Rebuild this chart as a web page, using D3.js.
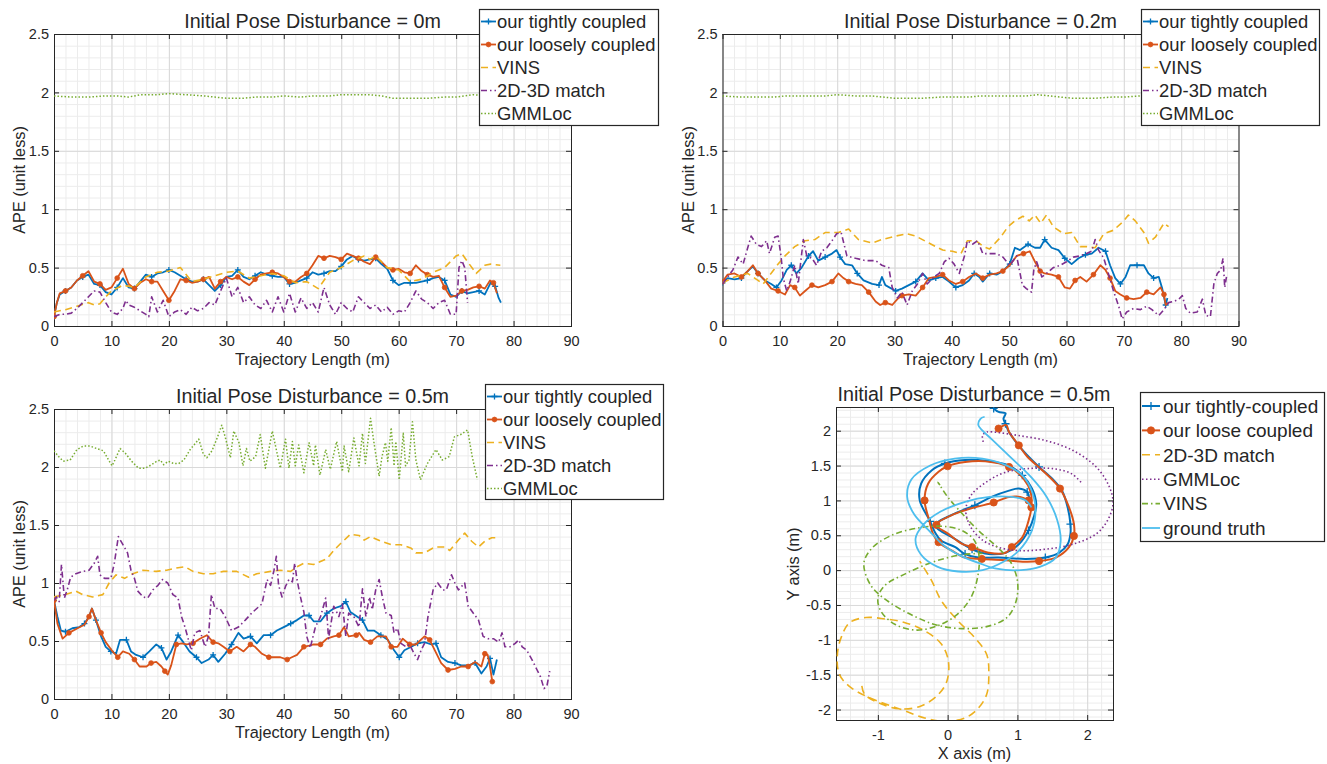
<!DOCTYPE html>
<html>
<head>
<meta charset="utf-8">
<script src="https://cdn.jsdelivr.net/npm/d3@7/dist/d3.min.js"></script>
<style>
  body { margin: 0; background: #fff; }
  svg text { font-family: "Liberation Sans", Arial, Helvetica, sans-serif; fill: #262626; }
</style>
</head>
<body>
<script>
//---------------- data ----------------
var titles = ['Initial Pose Disturbance = 0m', 'Initial Pose Disturbance = 0.2m',
              'Initial Pose Disturbance = 0.5m', 'Initial Pose Disturbance = 0.5m'];
var apeLabels = ['our tightly coupled', 'our loosely coupled', 'VINS', '2D-3D match', 'GMMLoc'];
var trajLabels = ['our tightly-coupled', 'our loose coupled', '2D-3D match', 'GMMLoc', 'VINS', 'ground truth'];
var apeXTicks = [0, 10, 20, 30, 40, 50, 60, 70, 80, 90];
var apeYTicks = [0, 0.5, 1, 1.5, 2, 2.5];
var trajXTicks = [-1, 0, 1, 2];
var trajYTicks = [-2, -1.5, -1, -0.5, 0, 0.5, 1, 1.5, 2];

// disturbance 0m : [trajectory length, APE]
var tight0 = [[0,0.08],[0.5,0.2],[1,0.27],[2,0.3],[3,0.33],[4,0.39],[5,0.42],[6,0.44],[7,0.36],[8,0.35],[9,0.29],[10,0.27],[11,0.33],[12,0.41],[13,0.33],[14,0.32],[15,0.38],[16,0.44],[17,0.42],[18,0.45],[19,0.46],[20,0.48],[21,0.46],[22,0.43],[23,0.4],[24,0.38],[25,0.38],[26,0.4],[27,0.35],[28,0.3],[29,0.35],[30,0.42],[31,0.43],[32,0.48],[33,0.42],[34,0.4],[35,0.43],[36,0.46],[37,0.44],[38,0.43],[39,0.42],[40,0.42],[41,0.36],[42,0.37],[43,0.39],[44,0.41],[45,0.46],[46,0.44],[47,0.45],[48,0.47],[49,0.47],[50,0.51],[51,0.57],[52,0.6],[53,0.57],[54,0.56],[55,0.57],[56,0.58],[57,0.53],[58,0.49],[59,0.39],[60,0.35],[61,0.37],[62,0.37],[63,0.37],[64,0.38],[65,0.39],[66,0.41],[67,0.42],[68,0.39],[69,0.27],[70,0.25],[71,0.3],[72,0.28],[73,0.29],[74,0.3],[75,0.27],[76,0.37],[76.8,0.34],[77.4,0.24],[77.8,0.2]];
var loose0 = [[0,0.08],[0.5,0.2],[1,0.28],[2,0.3],[3,0.33],[4,0.39],[5,0.43],[6,0.47],[7,0.38],[8,0.36],[9,0.31],[10,0.33],[11,0.41],[12,0.49],[13,0.36],[14,0.32],[15,0.37],[16,0.4],[17,0.38],[18,0.38],[19,0.3],[20,0.22],[21,0.3],[22,0.4],[23,0.39],[24,0.37],[25,0.38],[26,0.4],[27,0.42],[28,0.32],[29,0.38],[30,0.42],[31,0.4],[32,0.42],[33,0.38],[34,0.35],[35,0.4],[36,0.44],[37,0.45],[38,0.46],[39,0.45],[40,0.42],[41,0.38],[42,0.38],[43,0.42],[44,0.45],[45,0.52],[46,0.6],[47,0.58],[48,0.6],[49,0.59],[50,0.57],[51,0.62],[52,0.6],[53,0.58],[54,0.55],[55,0.53],[56,0.59],[57,0.55],[58,0.5],[59,0.48],[60,0.49],[61,0.46],[62,0.45],[63,0.52],[64,0.47],[65,0.44],[66,0.42],[67,0.43],[68,0.33],[69,0.25],[70,0.26],[71,0.3],[72,0.31],[73,0.33],[74,0.34],[75,0.32],[75.9,0.39],[76.5,0.37],[77.1,0.28]];
var vins0 = [[0,0.12],[2,0.14],[4,0.17],[6,0.2],[7,0.18],[8,0.19],[9,0.25],[10,0.3],[12,0.35],[14,0.33],[16,0.42],[18,0.46],[20,0.47],[22,0.5],[23,0.44],[24,0.38],[26,0.4],[28,0.43],[30,0.46],[32,0.47],[34,0.41],[36,0.43],[38,0.45],[40,0.43],[42,0.37],[44,0.38],[46,0.32],[48,0.46],[50,0.5],[52,0.56],[54,0.6],[55,0.57],[56,0.6],[58,0.5],[60,0.48],[62,0.38],[64,0.4],[66,0.46],[68,0.5],[70,0.6],[71,0.62],[72,0.55],[73.5,0.45],[75,0.52],[76,0.53],[77.7,0.52]];
var match0 = [[0,0.08],[1,0.1],[2,0.1],[3,0.11],[4,0.15],[5,0.2],[6,0.25],[7,0.3],[8,0.29],[9,0.2],[10,0.12],[11,0.1],[12,0.15],[12.5,0.22],[13,0.18],[14,0.16],[15,0.13],[16,0.1],[16.5,0.08],[17,0.25],[18,0.12],[19,0.22],[20,0.08],[21,0.12],[22,0.14],[23,0.1],[24,0.16],[25,0.13],[26,0.15],[27,0.2],[28,0.18],[29,0.3],[30,0.41],[31,0.25],[32,0.33],[33,0.2],[34,0.25],[35,0.18],[36,0.15],[37,0.22],[38,0.12],[39,0.25],[40,0.12],[41,0.28],[42,0.12],[43,0.24],[44,0.15],[45,0.2],[46,0.12],[47,0.33],[48,0.18],[49,0.1],[50,0.2],[51,0.15],[52,0.12],[53,0.25],[54,0.2],[55,0.15],[56,0.18],[57,0.12],[58,0.16],[59,0.1],[60,0.13],[61,0.12],[62,0.2],[63,0.3],[64,0.23],[65,0.2],[66,0.15],[67,0.2],[68,0.22],[69,0.1],[70,0.1],[70.5,0.5],[71,0.56],[71.5,0.5],[72,0.2]];
var gmm0 = [[0,1.97],[3,1.96],[6,1.96],[9,1.97],[11,1.97],[13,1.96],[15,1.98],[18,1.98],[20,1.99],[23,1.98],[26,1.97],[28,1.96],[30,1.95],[33,1.95],[35,1.96],[38,1.96],[40,1.97],[43,1.96],[45,1.97],[48,1.97],[50,1.98],[53,1.98],[55,1.98],[57,1.97],[59,1.95],[62,1.95],[65,1.95],[68,1.96],[70,1.96],[73,1.98],[76,1.97],[78,1.97]];

// disturbance 0.2m
var tight2 = [[0,0.37],[0.9,0.41],[2.1,0.4],[3.3,0.41],[4.4,0.47],[5.3,0.51],[6.2,0.45],[7.4,0.39],[8.5,0.36],[9.4,0.33],[10.3,0.39],[11.2,0.48],[12,0.52],[12.9,0.45],[13.8,0.5],[15,0.6],[15.8,0.64],[16.7,0.56],[17.9,0.59],[19.1,0.62],[19.9,0.65],[20.5,0.59],[21.4,0.53],[22.6,0.52],[23.5,0.45],[24.6,0.39],[26.1,0.36],[27.3,0.35],[27.8,0.42],[28.4,0.35],[30.2,0.3],[31.3,0.32],[32.5,0.35],[33.7,0.38],[34.9,0.45],[36,0.39],[37.2,0.41],[38.4,0.42],[39.5,0.38],[40.7,0.33],[41.9,0.35],[43,0.39],[43.9,0.45],[44.8,0.42],[45.4,0.38],[46.6,0.45],[47.8,0.44],[48.9,0.47],[50.1,0.53],[51,0.67],[51.9,0.65],[53.3,0.7],[54.5,0.67],[55.4,0.67],[56.2,0.74],[57.4,0.67],[58.6,0.65],[59.7,0.58],[60.9,0.53],[62.1,0.58],[63.3,0.61],[64.4,0.62],[65.6,0.67],[66.8,0.64],[67.6,0.52],[68.5,0.41],[69.4,0.36],[70.3,0.42],[71.1,0.52],[72.3,0.52],[73.5,0.52],[74.3,0.45],[75.2,0.41],[76.1,0.42],[76.7,0.32],[77.3,0.18],[77.6,0.24]];
var loose2 = [[0,0.38],[0.9,0.44],[2.1,0.45],[3.3,0.42],[4.4,0.47],[5.3,0.52],[6.2,0.45],[7.4,0.39],[8.5,0.32],[9.7,0.3],[10.9,0.27],[11.8,0.35],[12.6,0.33],[13.5,0.26],[14.4,0.3],[15.6,0.35],[16.7,0.33],[17.9,0.35],[19.1,0.38],[20.2,0.45],[21.1,0.41],[22,0.38],[23.2,0.36],[24.3,0.35],[25.5,0.29],[26.7,0.21],[27.5,0.18],[28.4,0.2],[29.6,0.18],[30.5,0.23],[31.3,0.26],[32.5,0.27],[33.7,0.26],[34.9,0.33],[36,0.41],[37.2,0.42],[38.4,0.44],[39.5,0.39],[40.7,0.36],[41.9,0.38],[43,0.42],[44.2,0.45],[45.4,0.41],[46.6,0.44],[47.8,0.45],[48.9,0.47],[50.1,0.52],[51.3,0.6],[52.5,0.62],[53.6,0.64],[54.5,0.55],[55.4,0.47],[56.2,0.45],[57.4,0.44],[58.6,0.42],[59.7,0.33],[60.6,0.32],[61.5,0.39],[62.4,0.42],[63.5,0.38],[64.7,0.44],[65.9,0.52],[66.8,0.48],[67.6,0.41],[68.5,0.3],[69.4,0.27],[70.5,0.24],[71.7,0.23],[72.9,0.24],[74,0.29],[75.2,0.27],[76.4,0.33],[77,0.27],[77.3,0.18],[77.8,0.2]];
var vins2 = [[0,0.37],[2.1,0.42],[4.4,0.45],[6.2,0.39],[7.1,0.36],[8,0.42],[9.7,0.53],[10.9,0.6],[12.6,0.68],[14.4,0.73],[16.1,0.74],[17.9,0.8],[20.2,0.8],[22,0.83],[23.7,0.74],[26.1,0.71],[27.8,0.74],[30.2,0.77],[32.2,0.79],[33.7,0.77],[36,0.71],[38.4,0.65],[40.1,0.64],[41.6,0.62],[42.7,0.73],[44.2,0.73],[45.5,0.68],[46.6,0.66],[48.5,0.76],[49.8,0.85],[51,0.9],[52.4,0.94],[53.5,0.9],[54.5,0.95],[55.5,0.88],[56.5,0.95],[57.7,0.85],[59.5,0.79],[60.9,0.8],[62.4,0.68],[63.5,0.68],[65,0.67],[66.5,0.79],[68.2,0.82],[70,0.9],[70.8,0.95],[72,0.9],[73.5,0.8],[74.3,0.71],[75.5,0.76],[77,0.88],[77.8,0.85]];
var match2 = [[0,0.36],[0.9,0.42],[1.8,0.48],[2.7,0.59],[3.6,0.53],[4.4,0.67],[5,0.77],[5.9,0.7],[6.8,0.68],[7.7,0.73],[8.2,0.62],[9.1,0.76],[9.7,0.77],[10.2,0.6],[10.6,0.41],[11.2,0.3],[11.8,0.38],[12.6,0.52],[13.2,0.36],[14.1,0.74],[14.7,0.6],[15.6,0.58],[16.4,0.52],[17.3,0.64],[18.2,0.67],[19.1,0.73],[19.9,0.79],[20.7,0.8],[21.7,0.6],[23.2,0.58],[24.9,0.56],[26.7,0.56],[27.8,0.52],[29,0.5],[29.6,0.33],[30.5,0.24],[31.3,0.29],[32.2,0.18],[33.1,0.3],[34,0.36],[34.9,0.45],[35.7,0.36],[36.9,0.42],[37.8,0.45],[38.7,0.55],[39.5,0.58],[40.4,0.53],[41.3,0.45],[42.2,0.6],[42.7,0.73],[43.6,0.7],[44.5,0.73],[45.4,0.62],[46.6,0.62],[47.8,0.62],[48.9,0.59],[50.1,0.52],[51.3,0.6],[51.9,0.45],[52.3,0.35],[53,0.32],[53.9,0.29],[54.3,0.48],[54.8,0.55],[55.7,0.42],[56.5,0.45],[57.7,0.5],[58.9,0.52],[60,0.55],[61.2,0.59],[62.4,0.6],[63.5,0.62],[64.4,0.64],[65,0.74],[65.6,0.65],[66.5,0.58],[67.3,0.45],[68.2,0.3],[69.1,0.17],[69.7,0.06],[70.5,0.12],[71.7,0.15],[72.9,0.14],[74,0.17],[74.9,0.14],[76.1,0.09],[77,0.14],[77.8,0.2],[78.7,0.21],[79.6,0.23],[80.2,0.26],[80.8,0.15],[81.6,0.11],[82.8,0.12],[83.7,0.23],[84.3,0.09],[85.1,0.08],[85.7,0.36],[86.3,0.45],[86.9,0.48],[87.3,0.58],[87.6,0.33],[87.9,0.42]];
var gmm2 = [[0,1.97],[3,1.96],[6,1.96],[9,1.96],[11,1.97],[13,1.97],[15,1.97],[18,1.97],[20,1.98],[23,1.97],[26,1.97],[28,1.96],[30,1.95],[33,1.95],[35,1.95],[38,1.96],[40,1.96],[43,1.96],[45,1.97],[48,1.97],[50,1.97],[53,1.97],[55,1.98],[57,1.97],[59,1.96],[61,1.95],[63,1.95],[65,1.95],[68,1.96],[70,1.96],[73,1.97],[76,1.97],[78,1.97]];

// disturbance 0.5m
var tight5 = [[0,0.85],[0.6,0.71],[1.2,0.59],[2,0.58],[3.2,0.61],[4.4,0.62],[5.3,0.65],[6.1,0.71],[6.6,0.78],[7.3,0.68],[8.2,0.54],[9,0.45],[9.9,0.41],[10.8,0.39],[11.5,0.51],[12.6,0.51],[13.4,0.41],[14.3,0.38],[15.5,0.36],[16.6,0.41],[17.8,0.47],[18.7,0.44],[19.6,0.34],[20.4,0.41],[21.6,0.55],[22.5,0.49],[23.6,0.41],[24.8,0.36],[25.7,0.31],[26.9,0.34],[27.7,0.38],[28.6,0.32],[29.8,0.39],[30.9,0.47],[32.1,0.57],[33,0.52],[34.2,0.54],[35.3,0.48],[36.5,0.55],[37.7,0.55],[38.8,0.59],[40,0.62],[41.2,0.65],[42.3,0.68],[43.5,0.72],[44.4,0.72],[45.2,0.67],[46.4,0.67],[47.5,0.74],[48.7,0.78],[49.9,0.8],[50.8,0.84],[51.6,0.75],[52.8,0.71],[53.7,0.68],[54.6,0.59],[55.7,0.59],[56.9,0.55],[58.1,0.51],[59.2,0.42],[60.1,0.36],[61,0.42],[62.2,0.45],[63.3,0.48],[64.5,0.49],[65.7,0.47],[66.5,0.48],[67.4,0.36],[68.6,0.32],[69.8,0.31],[70.9,0.29],[72.1,0.29],[73.3,0.31],[74.4,0.22],[75.3,0.28],[75.9,0.35],[76.5,0.21],[77.1,0.34]];
var loose5 = [[0,0.85],[0.6,0.65],[1.5,0.52],[2.6,0.57],[4.1,0.61],[5.3,0.64],[6.1,0.71],[6.6,0.78],[7.3,0.68],[8.2,0.57],[9,0.49],[10.2,0.41],[11.1,0.36],[12,0.41],[13.1,0.39],[14,0.34],[14.9,0.28],[16.1,0.28],[16.9,0.31],[17.8,0.32],[18.7,0.28],[19.3,0.24],[19.8,0.21],[20.4,0.29],[21.3,0.47],[22.2,0.48],[23.1,0.47],[24.2,0.48],[25.4,0.52],[26.6,0.55],[27.7,0.49],[28.6,0.48],[29.5,0.45],[30.6,0.41],[31.8,0.45],[33,0.41],[34.2,0.47],[35,0.45],[36.2,0.39],[37.4,0.36],[38.2,0.36],[39.4,0.36],[40.6,0.34],[41.4,0.36],[42.3,0.38],[43.5,0.45],[44.4,0.46],[45.2,0.47],[46.4,0.47],[47.5,0.52],[48.7,0.54],[49.6,0.55],[50.5,0.62],[51.3,0.54],[52.6,0.55],[53.1,0.57],[54,0.51],[55.1,0.49],[56.3,0.54],[57.8,0.54],[58.7,0.45],[59.8,0.45],[60.7,0.52],[61.9,0.47],[63,0.47],[64.5,0.54],[65.4,0.51],[66.3,0.42],[67.4,0.31],[68.6,0.25],[69.8,0.26],[70.9,0.28],[72.1,0.28],[73.3,0.32],[74.4,0.28],[75,0.39],[75.5,0.38],[75.9,0.28],[76.3,0.15]];
var vins5 = [[0,0.88],[2,0.9],[3.8,0.93],[5,0.9],[6.7,0.88],[8.5,0.9],[9.6,1.0],[10.8,1.07],[12.3,1.04],[13.7,1.08],[15.5,1.11],[17.8,1.1],[19.6,1.11],[21.3,1.13],[22.8,1.14],[24.2,1.1],[26,1.08],[27.7,1.08],[29.5,1.1],[31.8,1.1],[33.9,1.05],[35.3,1.08],[37.7,1.1],[39.4,1.11],[41.2,1.1],[42.3,1.14],[43.5,1.17],[45.2,1.16],[47.5,1.21],[48.7,1.28],[49.9,1.34],[51.6,1.42],[53.1,1.41],[54,1.37],[55.1,1.4],[56.9,1.36],[58.7,1.33],[60.4,1.33],[62.2,1.3],[63,1.26],[64.5,1.26],[66.3,1.31],[68,1.31],[68.9,1.28],[70.4,1.37],[71.5,1.43],[72.7,1.36],[73.9,1.31],[75,1.36],[76.2,1.39],[77.4,1.39]];
var match5 = [[0,0.85],[0.4,0.88],[0.9,0.84],[1.3,1.16],[1.8,0.87],[2.3,0.94],[2.9,1.05],[3.8,1.08],[5,1.1],[6.1,1.11],[7,1.17],[7.6,1.23],[8,1.07],[8.8,1.04],[9.9,1.04],[10.5,1.17],[11.2,1.4],[12,1.33],[12.8,1.26],[13.4,1.11],[14,1.04],[14.6,0.93],[15.5,0.88],[16.3,0.87],[17.2,0.94],[18.1,0.98],[18.9,1.03],[19.8,1.0],[20.7,0.9],[21.6,0.87],[22.2,0.71],[22.8,0.62],[23.4,0.51],[23.9,0.42],[24.5,0.57],[25.4,0.59],[26.3,0.45],[26.9,0.54],[27.4,0.9],[28,0.78],[28.9,0.78],[29.8,0.71],[30.9,0.59],[32.1,0.62],[33.3,0.68],[34.4,0.74],[35.3,0.78],[36.2,0.82],[37.1,1.03],[37.7,0.98],[38.3,1.11],[38.7,1.23],[39.1,0.98],[39.7,0.88],[40.3,0.97],[40.9,1.03],[41.5,1.01],[41.9,1.17],[42.3,1.03],[42.9,0.88],[43.5,0.75],[44,0.54],[44.6,0.44],[45.5,0.62],[46.4,0.71],[47.3,0.87],[47.8,0.52],[48.7,0.8],[49.6,0.71],[50.2,0.82],[50.8,0.54],[51.3,0.74],[52.2,0.71],[53.1,0.62],[53.7,0.95],[54.3,0.71],[54.9,0.88],[55.4,0.77],[56,0.94],[56.6,1.03],[57.2,0.87],[57.8,0.74],[58.7,0.72],[59.2,0.57],[59.8,0.61],[60.4,0.48],[61.3,0.45],[61.9,0.47],[62.7,0.39],[63.3,0.34],[63.9,0.42],[64.5,0.48],[65.1,0.71],[66,0.94],[66.8,1.0],[67.7,0.94],[68.3,0.94],[69.2,1.07],[69.8,1.0],[70.4,0.94],[71.5,1.0],[72.1,0.8],[73,0.74],[73.9,0.68],[74.7,0.54],[75.6,0.52],[76.5,0.52],[77.4,0.49],[78,0.57],[78.5,0.45],[79.4,0.45],[80.3,0.48],[80.9,0.51],[81.5,0.45],[82.3,0.42],[83.2,0.34],[84.1,0.25],[84.7,0.19],[85.3,0.09],[85.8,0.11],[86.3,0.24]];
var gmm5 = [[0,2.14],[0.8,2.09],[1.6,2.05],[2.8,2.06],[4,2.15],[5.1,2.18],[6.3,2.18],[7.4,2.16],[8.6,2.14],[9.5,2.06],[10.1,2.01],[10.6,2.06],[11.5,2.16],[12.4,2.12],[13.5,2.05],[14.7,1.99],[15.9,1.99],[17,2.02],[17.9,2.05],[18.5,2.06],[19.1,2.02],[19.9,2.05],[20.8,2.03],[21.7,2.03],[22.6,2.06],[23.7,2.15],[25.2,2.24],[26,2.11],[26.6,2.08],[27.5,2.14],[28.4,2.25],[29.2,2.36],[29.8,2.26],[30.7,2.08],[31.3,2.31],[32.2,2.21],[32.9,2.01],[33.5,2.16],[34.1,2.05],[35.1,2.09],[35.9,2.28],[36.8,1.99],[38,2.31],[39.4,1.99],[40.3,2.24],[40.9,1.99],[41.5,2.22],[42,2.01],[42.6,2.19],[43.5,1.95],[44.4,2.21],[45.2,2.01],[45.5,2.19],[46.3,1.93],[47.3,2.15],[48.1,1.98],[49.2,2.22],[50.2,1.96],[50.5,2.18],[51.3,1.96],[52.2,2.25],[53.1,2.01],[53.7,2.29],[54.2,2.03],[55.1,2.42],[55.7,2.21],[56.6,1.92],[57.1,2.09],[57.7,2.21],[58.1,2.05],[58.7,2.34],[59.2,2.01],[59.5,2.22],[60.1,1.89],[60.8,2.29],[61.2,2.01],[61.8,2.06],[62.4,2.39],[63,2.06],[63.8,1.89],[65,2.03],[66.5,2.15],[67.6,2.06],[68.8,2.09],[69.7,2.26],[70.8,2.28],[72,2.32],[72.8,2.09],[73.7,1.89]];

// trajectories, disturbance 0.5m : [x (m), y (m)]
var trajTight = [[0.66,2.32],[0.73,2.27],[0.83,2.25],[0.8,2.17],[0.83,2.1],[0.88,1.98],[1.0,1.81],[1.12,1.67],[1.31,1.48],[1.5,1.31],[1.64,1.14],[1.72,0.9],[1.76,0.66],[1.76,0.52],[1.72,0.37],[1.6,0.25],[1.4,0.18],[1.12,0.16],[0.73,0.18],[0.44,0.18],[0.25,0.23],[0.11,0.33],[-0.09,0.42],[-0.18,0.54],[-0.25,0.7],[-0.4,1.0],[-0.38,1.24],[-0.23,1.43],[-0.04,1.53],[0.25,1.58],[0.54,1.57],[0.88,1.5],[1.07,1.36],[1.21,1.17],[1.27,0.95],[1.24,0.78],[1.16,0.57],[1.02,0.37],[0.83,0.25],[0.59,0.23],[0.35,0.3],[0.1,0.45],[-0.18,0.64],[0.1,0.81],[0.39,0.93],[0.63,1.05],[0.88,1.14],[1.02,1.17],[1.14,1.12],[1.17,1.03]];
var trajLoose = [[0.73,2.03],[0.84,2.08],[0.88,1.98],[1.02,1.79],[1.14,1.63],[1.36,1.43],[1.61,1.17],[1.74,0.9],[1.81,0.66],[1.81,0.49],[1.74,0.33],[1.55,0.18],[1.31,0.13],[1.14,0.12],[0.83,0.14],[0.49,0.16],[0.25,0.18],[0.06,0.28],[-0.13,0.4],[-0.21,0.52],[-0.26,0.7],[-0.33,1.0],[-0.28,1.24],[-0.13,1.41],[0.0,1.49],[0.25,1.55],[0.54,1.56],[0.88,1.48],[1.09,1.31],[1.19,1.12],[1.2,0.9],[1.16,0.71],[1.07,0.47],[0.92,0.33],[0.83,0.25],[0.59,0.25],[0.35,0.33],[0.2,0.38],[0.01,0.52],[-0.16,0.65],[0.11,0.81],[0.39,0.9],[0.66,0.97],[0.88,1.05],[1.04,1.05],[1.16,1.0]];
var trajMatch = [[-1.23,-1.66],[-1.19,-1.78],[-1.0,-1.9],[-0.69,-1.99],[-0.38,-1.95],[-0.13,-1.78],[-0.01,-1.59],[0.01,-1.3],[-0.09,-1.06],[-0.33,-0.87],[-0.62,-0.75],[-0.9,-0.7],[-1.17,-0.68],[-1.4,-0.75],[-1.52,-0.95],[-1.58,-1.21],[-1.55,-1.5],[-1.38,-1.69],[-1.05,-1.86],[-0.66,-2.0],[-0.33,-2.12],[-0.04,-2.17],[0.25,-2.12],[0.44,-1.98],[0.56,-1.78],[0.59,-1.5],[0.56,-1.21],[0.39,-0.97],[0.15,-0.73],[-0.09,-0.44],[-0.23,-0.15],[-0.4,0.13]];
var trajGmm = [[0.51,1.84],[0.5,1.93],[0.56,1.98],[0.75,1.97],[1.02,1.93],[1.4,1.86],[1.79,1.72],[2.13,1.48],[2.32,1.19],[2.37,0.95],[2.29,0.71],[2.13,0.52],[1.79,0.37],[1.4,0.3],[1.02,0.28],[0.72,0.33],[0.5,0.43],[0.33,0.62],[0.26,0.86],[0.34,1.08],[0.55,1.26],[0.82,1.4],[1.2,1.46],[1.55,1.45],[1.78,1.38],[1.93,1.24]];
var trajVins = [[-0.11,1.22],[-0.14,1.26],[-0.1,1.2],[0.0,1.05],[0.2,0.82],[0.45,0.56],[0.7,0.34],[0.9,0.12],[1.0,-0.15],[0.98,-0.45],[0.85,-0.68],[0.6,-0.8],[0.25,-0.84],[-0.15,-0.79],[-0.5,-0.65],[-0.85,-0.45],[-1.1,-0.22],[-1.2,0.1],[-1.08,0.32],[-0.8,0.5],[-0.45,0.6],[-0.1,0.63],[0.2,0.57],[0.38,0.43],[0.45,0.2],[0.43,-0.1],[0.33,-0.4],[0.12,-0.65],[-0.15,-0.8],[-0.45,-0.86],[-0.75,-0.78],[-0.95,-0.6],[-1.0,-0.4],[-0.9,-0.22],[-0.6,-0.05],[-0.2,0.12],[0.2,0.22],[0.5,0.24]];
var trajGt = [[0.53,2.2],[0.47,2.17],[0.44,2.08],[0.5,2.0],[0.63,1.88],[0.9,1.62],[1.2,1.33],[1.42,1.05],[1.57,0.72],[1.62,0.42],[1.55,0.18],[1.33,0.05],[1.05,0.0],[0.7,0.02],[0.45,0.1],[0.2,0.2],[-0.05,0.35],[-0.25,0.55],[-0.48,0.8],[-0.58,1.05],[-0.52,1.3],[-0.25,1.5],[0.1,1.6],[0.5,1.6],[0.85,1.5],[1.08,1.35],[1.22,1.1],[1.26,0.85],[1.2,0.55],[1.02,0.28],[0.8,0.12],[0.5,0.0],[0.15,-0.02],[-0.15,0.05],[-0.38,0.22],[-0.46,0.45],[-0.35,0.65],[-0.1,0.84],[0.25,0.98],[0.6,1.05],[0.92,1.05],[1.12,1.0],[1.2,0.9]];

//---------------- styles ----------------
var blue = '#0072BD', orange = '#D95319', yellow = '#EDB120', purple = '#7E2F8E', green = '#77AC30', cyan = '#4DBEEE';
var apeStyles = [
    {color: blue, width: 1.8, marker: 'plus', every: 3, size: 3},
    {color: orange, width: 1.8, marker: 'circle', every: 3, size: 2.4},
    {color: yellow, width: 1.6, dash: '7,4.5'},
    {color: purple, width: 1.6, dash: '6,3,1.5,3'},
    {color: green, width: 1.5, dash: '1.5,2'}
];
var trajStyles = [
    {color: blue, width: 2, marker: 'plus', every: 4, size: 4},
    {color: orange, width: 2, marker: 'circle', every: 3, size: 3.6},
    {color: yellow, width: 1.6, dash: '8,5'},
    {color: purple, width: 1.6, dash: '1.5,2.5'},
    {color: green, width: 1.6, dash: '6,3,1.5,3'},
    {color: cyan, width: 1.8}
];

var svg = d3.select('body').append('svg')
    .attr('width', 1327)
    .attr('height', 764);

var clipId = 0;

//grid, ticks and box of one axes
function frame(x, y, xTicks, yTicks, xMinor, yMinor) {
    var xl = x.range()[0], xr = x.range()[1], yb = y.range()[0], yt = y.range()[1];
    var g = svg.append('g');
    g.append('rect').attr('x', xl).attr('y', yt).attr('width', xr - xl).attr('height', yb - yt).attr('fill', '#fff');

    function grid(xv, yv, col) {
        g.append('g').attr('transform', 'translate(0,' + yb + ')')
            .call(d3.axisBottom(x).tickValues(xv).tickSize(-(yb - yt)).tickFormat(''))
            .call(function(a){ a.select('.domain').remove(); a.selectAll('line').attr('stroke', col); });
        g.append('g').attr('transform', 'translate(' + xl + ',0)')
            .call(d3.axisLeft(y).tickValues(yv).tickSize(-(xr - xl)).tickFormat(''))
            .call(function(a){ a.select('.domain').remove(); a.selectAll('line').attr('stroke', col); });
    }
    grid(xMinor, yMinor, '#ececec');
    grid(xTicks, yTicks, '#d9d9d9');

    var fmt = function(d){ return String(d); };
    var axes = [
        ['translate(0,' + yb + ')', d3.axisBottom(x).tickValues(xTicks).tickFormat(fmt).tickPadding(10)],
        ['translate(' + xl + ',0)', d3.axisLeft(y).tickValues(yTicks).tickFormat(fmt).tickPadding(5)],
        ['translate(0,' + yt + ')', d3.axisTop(x).tickValues(xTicks).tickFormat('')],
        ['translate(' + xr + ',0)', d3.axisRight(y).tickValues(yTicks).tickFormat('')]
    ];
    axes.forEach(function(a){
        g.append('g').attr('transform', a[0])
            .attr('color', '#262626')
            .call(a[1].tickSizeInner(-5).tickSizeOuter(0))
            .call(function(s){
                s.select('.domain').remove();
                s.selectAll('text').attr('font-size', 14.5);
            });
    });
    g.append('rect').attr('x', xl + 0.5).attr('y', yt + 0.5)
        .attr('width', xr - xl).attr('height', yb - yt)
        .attr('fill', 'none').attr('stroke', '#262626').attr('stroke-width', 1);

    clipId++;
    svg.append('clipPath').attr('id', 'clip' + clipId)
        .append('rect').attr('x', xl).attr('y', yt).attr('width', xr - xl).attr('height', yb - yt);
    return svg.append('g').attr('clip-path', 'url(#clip' + clipId + ')');
}

function marker(g, type, cx, cy, size, color) {
    if (type === 'plus') {
        g.append('path')
            .attr('d', 'M' + (cx - size) + ',' + cy + 'H' + (cx + size) + 'M' + cx + ',' + (cy - size) + 'V' + (cy + size))
            .attr('stroke', color).attr('stroke-width', 1.3);
    } else if (type === 'circle') {
        g.append('circle').attr('cx', cx).attr('cy', cy).attr('r', size)
            .attr('fill', color).attr('stroke', color).attr('stroke-width', 0.8);
    }
}

function drawSeries(g, data, st, x, y, curve) {
    var line = d3.line()
        .x(function(d){ return x(d[0]); })
        .y(function(d){ return y(d[1]); })
        .curve(curve);
    g.append('path')
        .datum(data)
        .attr('d', line)
        .attr('fill', 'none')
        .attr('stroke', st.color)
        .attr('stroke-width', st.width)
        .attr('stroke-linejoin', 'round')
        .attr('stroke-dasharray', st.dash || null);
    if (st.marker) {
        data.forEach(function(d, i){
            if (i % st.every === 0) marker(g, st.marker, x(d[0]), y(d[1]), st.size, st.color);
        });
    }
}

function legend(box, labels, styles, fs, first, step, lx0, lx1, tx) {
    var g = svg.append('g');
    g.append('rect').attr('x', box[0] + 0.5).attr('y', box[1] + 0.5)
        .attr('width', box[2]).attr('height', box[3])
        .attr('fill', '#fff').attr('stroke', '#262626').attr('stroke-width', 1.2);
    labels.forEach(function(lab, i){
        var cy = box[1] + first + i * step, st = styles[i];
        g.append('line')
            .attr('x1', box[0] + lx0).attr('x2', box[0] + lx1)
            .attr('y1', cy).attr('y2', cy)
            .attr('stroke', st.color).attr('stroke-width', st.width)
            .attr('stroke-dasharray', st.dash || null);
        if (st.marker) marker(g, st.marker, box[0] + (lx0 + lx1) / 2, cy, st.size, st.color);
        g.append('text')
            .attr('x', box[0] + tx).attr('y', cy + fs * 0.36)
            .attr('font-size', fs)
            .text(lab);
    });
}

function labels(title, tx, ty, xlab, xx, xy, ylab, yx, yy) {
    svg.append('text').attr('x', tx).attr('y', ty).attr('text-anchor', 'middle')
        .attr('font-size', 19.7).text(title);
    svg.append('text').attr('x', xx).attr('y', xy).attr('text-anchor', 'middle')
        .attr('font-size', 16.3).text(xlab);
    svg.append('text').attr('transform', 'translate(' + yx + ',' + yy + ') rotate(-90)')
        .attr('text-anchor', 'middle').attr('font-size', 16.3).text(ylab);
}

//APE versus trajectory length panel
function apePanel(l, r, t, b, title, series, box) {
    var x = d3.scaleLinear().domain([0, 90]).range([l, r]);
    var y = d3.scaleLinear().domain([0, 2.5]).range([b, t]);
    var g = frame(x, y, apeXTicks, apeYTicks, d3.range(0, 90, 2), d3.range(0, 2.5, 0.1));
    series.forEach(function(s, i){ drawSeries(g, s, apeStyles[i], x, y, d3.curveLinear); });
    labels(title, (l + r) / 2, t - 6.5, 'Trajectory Length (m)', (l + r) / 2, b + 39,
           'APE (unit less)', l - 29, (t + b) / 2);
    legend(box, apeLabels, apeStyles, 18.4, 12.5, 23, 2, 17, 18);
}

apePanel(54, 571, 34, 326, titles[0], [tight0, loose0, vins0, match0, gmm0], [479, 9, 179, 116]);
apePanel(722.5, 1238.5, 34, 326, titles[1], [tight2, loose2, vins2, match2, gmm2], [1141, 9, 178, 116]);
apePanel(54, 571, 409, 699, titles[2], [tight5, loose5, vins5, match5, gmm5], [485, 384, 178, 115]);

//trajectory panel
(function(){
    var x = d3.scaleLinear().domain([-1.6, 2.37]).range([836, 1113]);
    var y = d3.scaleLinear().domain([-2.15, 2.34]).range([720, 407]);
    var g = frame(x, y, trajXTicks, trajYTicks, d3.range(-1.6, 2.37, 0.2), d3.range(-2.1, 2.34, 0.1));
    var trajs = [trajTight, trajLoose, trajMatch, trajGmm, trajVins, trajGt];
    trajs.forEach(function(s, i){ drawSeries(g, s, trajStyles[i], x, y, d3.curveCatmullRom.alpha(0.5)); });
    labels(titles[3], 974, 400.7, 'X axis (m)', 974.5, 758.5, 'Y axis (m)', 799, 564);
    legend([1140, 392, 184, 149], trajLabels, trajStyles, 19, 14, 24.4, 2, 20, 23);
})();
</script>
</body>
</html>
